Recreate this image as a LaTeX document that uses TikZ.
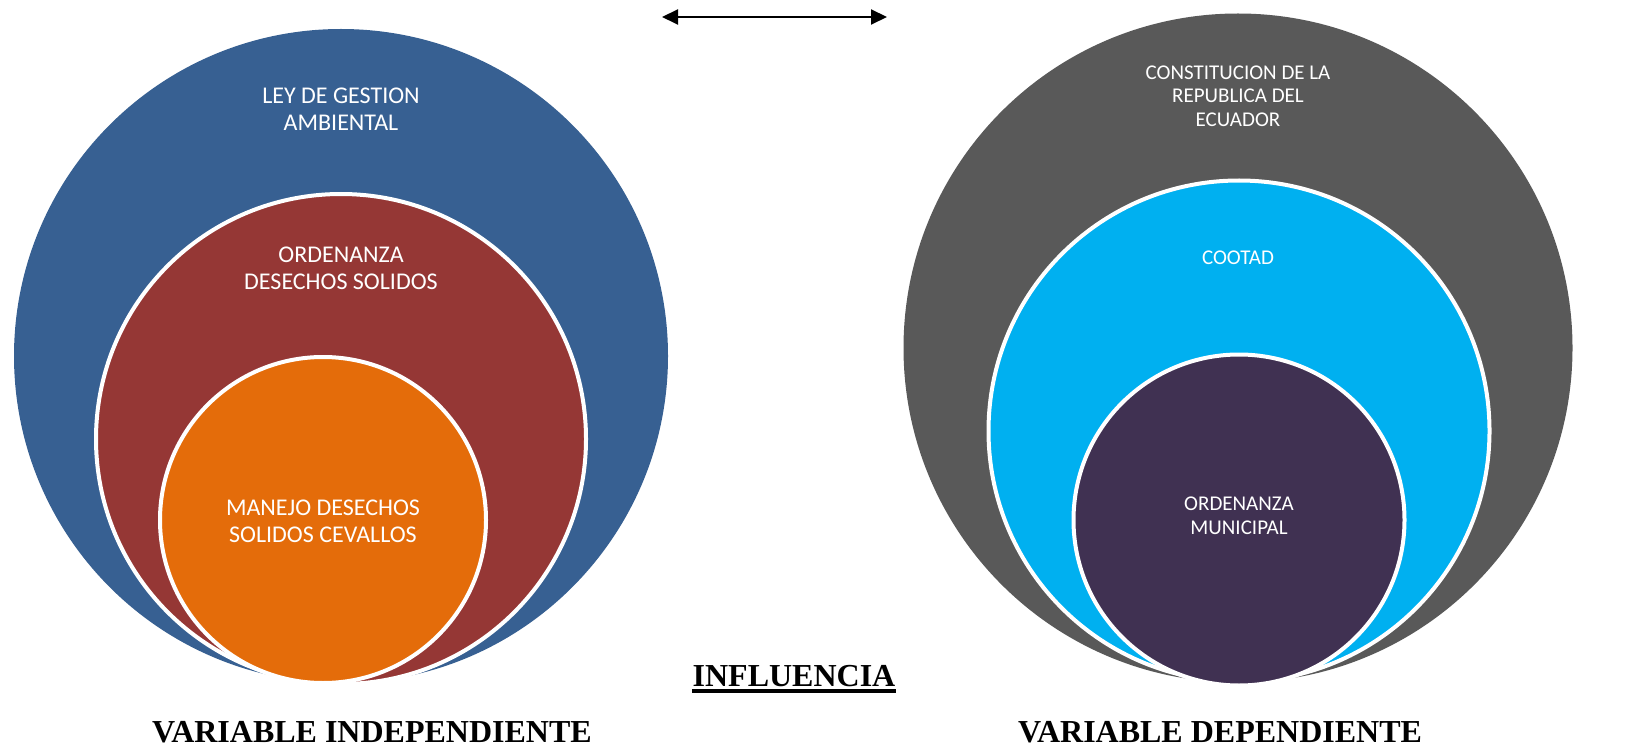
\documentclass[tikz,border=0pt]{standalone}
\usepackage{fontspec}
\setmainfont{Liberation Serif}
\newfontfamily\calibri{Carlito}
\usetikzlibrary{arrows.meta}
\definecolor{azul}{HTML}{376092}
\definecolor{rojo}{HTML}{953735}
\definecolor{naranja}{HTML}{E46C0A}
\definecolor{gris}{HTML}{595959}
\definecolor{celeste}{HTML}{00B0F0}
\definecolor{morado}{HTML}{403152}
\tikzset{
  ring/.style={circle, draw=white, line width=4pt, inner sep=0pt},
  txtizq/.style={text=white, align=center, font=\calibri\fontsize{24}{27}\selectfont},
  txtder/.style={text=white, align=center, font=\calibri\fontsize{21}{23.5}\selectfont},
  titulo/.style={anchor=base, inner sep=0pt, font=\bfseries\fontsize{32}{36}\selectfont}
}

\begin{document}
\begin{tikzpicture}[x=1pt, y=-1pt]
\useasboundingbox (0,0) rectangle (1627,751);
\node[ring, draw=none, fill=azul, minimum size=654pt] (ley) at (341,356) {};
\node[ring, fill=rojo, minimum size=490pt] (ord) at (341,439) {};
\node[ring, fill=naranja, minimum size=326pt] (manejo) at (323,520) {};
\node[ring, draw=none, fill=gris, minimum size=669pt] (const) at (1238,348) {};
\node[ring, fill=celeste, minimum size=501pt] (cootad) at (1239,431) {};
\node[ring, fill=morado, minimum size=331pt] (munic) at (1239,520) {};
\node[txtizq] (tley) at (341,109) {LEY DE GESTION\\AMBIENTAL};
\node[txtizq] (tord) at (341,268) {ORDENANZA\\DESECHOS SOLIDOS};
\node[txtizq] (tmanejo) at (323,521) {MANEJO DESECHOS\\SOLIDOS CEVALLOS};
\node[txtder] (tconst) at (1238,96) {CONSTITUCION DE LA\\REPUBLICA DEL\\ECUADOR};
\node[txtder] (tcootad) at (1238,258) {COOTAD};
\node[txtder] (tmunic) at (1239,516) {ORDENANZA\\MUNICIPAL};
\node[titulo] (indep) at (372,742) {VARIABLE INDEPENDIENTE};
\node[titulo] (dep) at (1220,742) {VARIABLE DEPENDIENTE};
\node[titulo] (infl) at (794,686) {INFLUENCIA};
\draw[line width=3.3pt] ([yshift=-5pt]infl.base west) -- ([yshift=-5pt]infl.base east);
\coordinate (izq) at (662,17);
\coordinate (der) at (887,17);
\draw[{Triangle[length=16pt,width=15pt]}-{Triangle[length=16pt,width=15pt]}, line width=2pt] (izq) -- (der);
\end{tikzpicture}
\end{document}
